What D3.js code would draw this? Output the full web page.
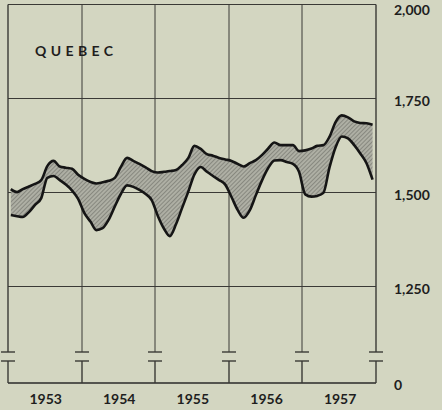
<!DOCTYPE html>
<html>
<head>
<meta charset="utf-8">
<script src="https://cdn.jsdelivr.net/npm/d3@7"></script>
<style>
    html, body { margin: 0; padding: 0; background: #d3d6c1; }
    svg { display: block; }
    text { font-family: Lato, "DejaVu Sans", sans-serif; fill: #1e1e1e; }
</style>
</head>
<body>
<div class="static-image"></div>
<script>
// monthly figures, thousands, Jan 1953 - Dec 1957
var startYear = 1953;
var years = ["1953", "1954", "1955", "1956", "1957"];
var labourForce = [
    1509, 1501, 1509, 1516, 1523, 1533, 1570, 1584, 1569, 1566, 1563, 1547,
    1536, 1528, 1524, 1527, 1531, 1539, 1568, 1592, 1584, 1576, 1567, 1557,
    1553, 1555, 1557, 1560, 1573, 1592, 1624, 1616, 1602, 1598, 1592, 1588,
    1584, 1576, 1569, 1578, 1586, 1600, 1617, 1633, 1626, 1626, 1626, 1610,
    1612, 1617, 1624, 1626, 1648, 1688, 1705, 1700, 1689, 1685, 1684, 1680
];
var employed = [
    1440, 1437, 1435, 1448, 1467, 1485, 1539, 1544, 1533, 1521, 1505, 1483,
    1445, 1422, 1400, 1405, 1427, 1463, 1496, 1519, 1515, 1507, 1496, 1480,
    1437, 1403, 1384, 1416, 1459, 1503, 1548, 1568, 1555, 1544, 1533, 1521,
    1488, 1453, 1433, 1453, 1493, 1533, 1565, 1585, 1586, 1581, 1576, 1555,
    1495, 1489, 1491, 1499, 1566, 1621, 1649, 1644, 1626, 1604, 1578, 1534
];
var yTicks = [0, 1250, 1500, 1750, 2000];
var gridValues = [1250, 1500, 1750, 2000];

var width = 442;
var height = 410;
var plot = { "left": 8, "right": 376, "top": 4.5, "bottom": 383 };
var breakTop = 352;
var breakBottom = 361;

var x = d3.scaleTime()
    .domain([new Date(startYear, 0, 1), new Date(startYear + years.length, 0, 1)])
    .range([plot.left, plot.right]);

// broken axis: 0 at the bottom, 1,250 - 2,000 stretched above
var y = d3.scaleLinear()
    .domain([0, 1250, 2000])
    .range([plot.bottom, 286.5, plot.top]);

var rows = labourForce.map(function (d, i) {
    return { date: new Date(startYear, i, 15), upper: d, lower: employed[i] };
});

var svg = d3.select(".static-image")
    .append("svg")
    .attr("width", width)
    .attr("height", height);

// hatching for the gap between the two lines
var pattern = svg.append("defs")
    .append("pattern")
    .attr("id", "hatch")
    .attr("patternUnits", "userSpaceOnUse")
    .attr("width", 3)
    .attr("height", 3)
    .attr("patternTransform", "rotate(45)");
pattern.append("rect")
    .attr("width", 3)
    .attr("height", 3)
    .attr("fill", "#aeafa4");
pattern.append("line")
    .attr("x1", 0).attr("y1", 0)
    .attr("x2", 0).attr("y2", 3)
    .attr("stroke", "#6c6d66")
    .attr("stroke-width", 1.2);

// horizontal grid
svg.append("g")
    .selectAll("line")
    .data(gridValues)
    .enter()
    .append("line")
    .attr("x1", plot.left)
    .attr("x2", plot.right)
    .attr("y1", function (d) { return y(d); })
    .attr("y2", function (d) { return y(d); })
    .attr("stroke", "#3a3a36")
    .attr("stroke-width", 1);

// base line at zero
svg.append("line")
    .attr("x1", plot.left)
    .attr("x2", plot.right)
    .attr("y1", y(0))
    .attr("y2", y(0))
    .attr("stroke", "#2a2a28")
    .attr("stroke-width", 1.6);

// vertical year lines with the break symbol
var bounds = d3.range(years.length + 1).map(function (i) {
    return new Date(startYear + i, 0, 1);
});
var vg = svg.append("g")
    .selectAll("g")
    .data(bounds)
    .enter()
    .append("g")
    .attr("transform", function (d) { return "translate(" + Math.round(x(d)) + ",0)"; });
vg.append("line")
    .attr("y1", plot.top)
    .attr("y2", breakTop)
    .attr("stroke", "#3a3a36")
    .attr("stroke-width", function (d, i) { return i == 0 || i == years.length ? 1.4 : 1; });
vg.append("line")
    .attr("y1", breakBottom)
    .attr("y2", y(0))
    .attr("stroke", "#3a3a36")
    .attr("stroke-width", 1.4);
[breakTop, breakBottom].forEach(function (b) {
    vg.append("line")
        .attr("x1", -7)
        .attr("x2", 7)
        .attr("y1", b)
        .attr("y2", b)
        .attr("stroke", "#3a3a36")
        .attr("stroke-width", 1.4);
});

// band + lines
var area = d3.area()
    .x(function (d) { return x(d.date); })
    .y0(function (d) { return y(d.lower); })
    .y1(function (d) { return y(d.upper); })
    .curve(d3.curveMonotoneX);
svg.append("path")
    .datum(rows)
    .attr("d", area)
    .attr("fill", "url(#hatch)");

["upper", "lower"].forEach(function (key) {
    svg.append("path")
        .datum(rows)
        .attr("d", d3.line()
            .x(function (d) { return x(d.date); })
            .y(function (d) { return y(d[key]); })
            .curve(d3.curveMonotoneX))
        .attr("fill", "none")
        .attr("stroke", "#151515")
        .attr("stroke-width", 2.6)
        .attr("stroke-linejoin", "round");
});

// right hand value labels
svg.append("g")
    .selectAll("text")
    .data(yTicks)
    .enter()
    .append("text")
    .attr("x", 394)
    .attr("y", function (d) { return Math.max(y(d) + 2.5, 10); })
    .attr("dy", "0.35em")
    .style("font-size", "14px")
    .style("font-weight", "bold")
    .text(function (d) { return d3.format(",")(d); });

// year labels
svg.append("g")
    .selectAll("text")
    .data(years)
    .enter()
    .append("text")
    .attr("x", function (d, i) { return x(new Date(startYear + i, 6, 2)) + 1; })
    .attr("y", 399)
    .attr("dy", "0.35em")
    .attr("text-anchor", "middle")
    .style("font-size", "14px")
    .style("font-weight", "bold")
    .text(function (d) { return d; });

svg.append("text")
    .attr("x", 35)
    .attr("y", 56)
    .style("font-size", "14px")
    .style("font-weight", "bold")
    .style("letter-spacing", "4.4px")
    .text("QUEBEC");
</script>
</body>
</html>
